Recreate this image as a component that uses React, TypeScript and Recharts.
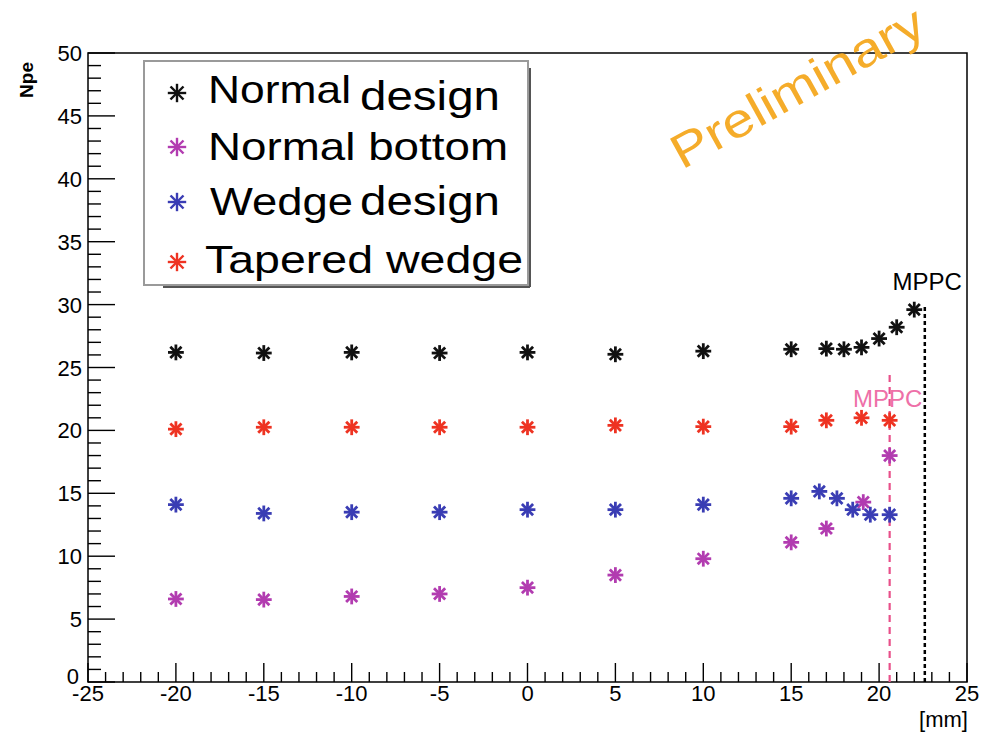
import {
  ScatterChart,
  Scatter,
  XAxis,
  YAxis,
  ReferenceLine,
  ReferenceArea,
  Legend,
} from 'recharts';

// Npe vs position along the tile, four tile designs
const normalDesignX = [-20, -15, -10, -5, 0, 5, 10, 15, 17, 18, 19, 20, 21, 22];
const normalDesignY = [26.2, 26.15, 26.2, 26.15, 26.2, 26.05, 26.3, 26.45, 26.5, 26.45, 26.6, 27.3, 28.2, 29.6];

const normalBottomX = [-20, -15, -10, -5, 0, 5, 10, 15, 17, 19.1, 20.6];
const normalBottomY = [6.6, 6.55, 6.8, 7.0, 7.5, 8.5, 9.8, 11.1, 12.2, 14.3, 18.0];

const wedgeDesignX = [-20, -15, -10, -5, 0, 5, 10, 15, 16.6, 17.6, 18.5, 19.5, 20.6];
const wedgeDesignY = [14.1, 13.4, 13.5, 13.5, 13.7, 13.7, 14.1, 14.6, 15.15, 14.6, 13.7, 13.3, 13.3];

const taperedWedgeX = [-20, -15, -10, -5, 0, 5, 10, 15, 17, 19, 20.6];
const taperedWedgeY = [20.1, 20.25, 20.25, 20.25, 20.25, 20.4, 20.3, 20.3, 20.8, 21.0, 20.8];

// MPPC positions (x) and marker heights (y)
const mppcNormal = { x: 22.6, top: 30 };
const mppcWedge = { x: 20.6, top: 24.5 };

// minor ticks every 1 unit (ROOT style), labels on every 5th
const xTicks = Array.from({ length: 51 }, (_, i) => i - 25);
const yTicks = Array.from({ length: 51 }, (_, i) => i);

const FONT = "'Liberation Sans', Arial, Helvetica, sans-serif";
const NARROW = "'Liberation Sans Narrow', 'Arial Narrow', 'Liberation Sans', sans-serif";

const COLORS = {
  normal: '#111111',
  bottom: '#b23cb0',
  wedge: '#3a3db4',
  tapered: '#ee3322',
};

const toPoints = (xs: number[], ys: number[]) => xs.map((x, i) => ({ x, y: ys[i] }));

function Asterisk({ cx, cy, r, color, w }: { cx: number; cy: number; r: number; color: string; w: number }) {
  const d = r * 0.7071;
  return (
    <g stroke={color} strokeWidth={w} strokeLinecap="square">
      <line x1={cx - r} y1={cy} x2={cx + r} y2={cy} />
      <line x1={cx} y1={cy - r} x2={cx} y2={cy + r} />
      <line x1={cx - d} y1={cy - d} x2={cx + d} y2={cy + d} />
      <line x1={cx - d} y1={cy + d} x2={cx + d} y2={cy - d} />
    </g>
  );
}

const markerShape = (color: string) => (props: any) => (
  <Asterisk cx={props.cx} cy={props.cy} r={6.5} color={color} w={2.8} />
);

function XTick(props: any) {
  const { x, y, payload } = props;
  const v = payload.value;
  const major = v % 5 === 0;
  return (
    <g>
      <line x1={x} x2={x} y1={y} y2={y - (major ? 19 : 10)} stroke="#000" strokeWidth={1.4} />
      {major && (
        <text x={x} y={y + 19} textAnchor="middle" fontSize={22} fontFamily={NARROW} fill="#000">
          {v}
        </text>
      )}
    </g>
  );
}

function YTick(props: any) {
  const { x, y, payload } = props;
  const v = payload.value;
  const major = v % 5 === 0;
  return (
    <g>
      <line x1={x} x2={x + (major ? 27 : 13)} y1={y} y2={y} stroke="#000" strokeWidth={1.4} />
      {major && (
        <text
          x={v === 0 ? x - 9 : x - 6}
          y={y + (v === 0 ? 2 : 8)}
          textAnchor="end"
          fontSize={22}
          fontFamily={FONT}
          fill="#000"
        >
          {v}
        </text>
      )}
    </g>
  );
}

function LegendBox() {
  return (
    <svg width={392} height={232} style={{ display: 'block', overflow: 'visible' }}>
      <rect x={1} y={1} width={384} height={224} fill="#fff" stroke="#9a9a9a" strokeWidth={2} />
      <line x1={20} y1={227} x2={387} y2={227} stroke="#555" strokeWidth={2} />
      <line x1={387} y1={8} x2={387} y2={227} stroke="#555" strokeWidth={2} />
      <Asterisk cx={34} cy={33} r={8} color={COLORS.normal} w={2.4} />
      <Asterisk cx={34} cy={87} r={8} color={COLORS.bottom} w={2.4} />
      <Asterisk cx={34} cy={142} r={8} color={COLORS.wedge} w={2.4} />
      <Asterisk cx={34} cy={202} r={8} color={COLORS.tapered} w={2.4} />
      <g fontFamily={FONT} fontSize={39} fill="#000">
        <text x={65} y={43} textLength={143} lengthAdjust="spacingAndGlyphs">Normal</text>
        <text x={217} y={50} fontSize={41} textLength={140} lengthAdjust="spacingAndGlyphs">design</text>
        <text x={65} y={100} textLength={300} lengthAdjust="spacingAndGlyphs">Normal bottom</text>
        <text x={67} y={155} textLength={143} lengthAdjust="spacingAndGlyphs">Wedge</text>
        <text x={217} y={155} fontSize={41} textLength={140} lengthAdjust="spacingAndGlyphs">design</text>
        <text x={62} y={213} textLength={318} lengthAdjust="spacingAndGlyphs">Tapered wedge</text>
      </g>
    </svg>
  );
}

export default function App() {
  return (
    <div style={{ position: 'absolute', left: 0, top: 0, width: 982, height: 737, background: '#fff' }}>
      <ScatterChart width={982} height={737} margin={{ top: 53, right: 15, bottom: 5, left: 28 }}>
        <XAxis
          type="number"
          dataKey="x"
          domain={[-25, 25]}
          ticks={xTicks}
          interval={0}
          tick={<XTick />}
          tickSize={0}
          tickMargin={0}
          axisLine={false}
          tickLine={false}
          height={50}
          allowDataOverflow
          label={(p: any) => {
            const vb = p.viewBox || { x: 88, y: 682, width: 879 };
            return (
              <text x={vb.x + vb.width + 1} y={vb.y + 45} textAnchor="end" fontSize={22} fontFamily={NARROW} fill="#000">
                [mm]
              </text>
            );
          }}
        />
        <YAxis
          type="number"
          dataKey="y"
          domain={[0, 50]}
          ticks={yTicks}
          interval={0}
          tick={<YTick />}
          tickSize={0}
          tickMargin={0}
          axisLine={false}
          tickLine={false}
          width={60}
          allowDataOverflow
          label={(p: any) => {
            const vb = p.viewBox || { x: 28, y: 53 };
            const lx = vb.x + 5;
            const ly = vb.y + 9;
            return (
              <text
                x={lx}
                y={ly}
                transform={`rotate(-90 ${lx} ${ly})`}
                textAnchor="end"
                fontSize={19}
                fontWeight="bold"
                fontFamily={FONT}
                fill="#000"
              >
                Npe
              </text>
            );
          }}
        />
        <ReferenceArea x1={-25} x2={25} y1={0} y2={50} fill="none" stroke="#000" strokeWidth={1.5} />
        <ReferenceLine
          segment={[{ x: mppcNormal.x, y: 0 }, { x: mppcNormal.x, y: mppcNormal.top }]}
          stroke="#000"
          strokeWidth={2.5}
          strokeDasharray="4 3"
          label={(p: any) => {
            const vb = p.viewBox || { x: 925, y: 303 };
            return (
              <text x={vb.x + 37} y={vb.y - 15} textAnchor="end" fontSize={24} fontFamily={FONT} fill="#000">
                MPPC
              </text>
            );
          }}
        />
        <ReferenceLine
          segment={[{ x: mppcWedge.x, y: 0 }, { x: mppcWedge.x, y: mppcWedge.top }]}
          stroke="#e8508a"
          strokeWidth={2.2}
          strokeDasharray="7 5"
          label={(p: any) => {
            const vb = p.viewBox || { x: 889, y: 372 };
            return (
              <text x={vb.x - 2} y={vb.y + 33} textAnchor="middle" fontSize={24} fontFamily={FONT} fill="#ee70a8">
                MPPC
              </text>
            );
          }}
        />
        <Scatter
          name="Normal design"
          data={toPoints(normalDesignX, normalDesignY)}
          fill={COLORS.normal}
          shape={markerShape(COLORS.normal)}
          isAnimationActive={false}
        />
        <Scatter
          name="Normal bottom"
          data={toPoints(normalBottomX, normalBottomY)}
          fill={COLORS.bottom}
          shape={markerShape(COLORS.bottom)}
          isAnimationActive={false}
        />
        <Scatter
          name="Wedge design"
          data={toPoints(wedgeDesignX, wedgeDesignY)}
          fill={COLORS.wedge}
          shape={markerShape(COLORS.wedge)}
          isAnimationActive={false}
        />
        <Scatter
          name="Tapered wedge"
          data={toPoints(taperedWedgeX, taperedWedgeY)}
          fill={COLORS.tapered}
          shape={markerShape(COLORS.tapered)}
          isAnimationActive={false}
        />
        <Legend
          layout="vertical"
          align="center"
          verticalAlign="middle"
          content={() => <LegendBox />}
          wrapperStyle={{ position: 'absolute', left: 143, top: 60, width: 392, height: 232 }}
        />
      </ScatterChart>
      <svg
        width={982}
        height={737}
        style={{ position: 'absolute', left: 0, top: 0, pointerEvents: 'none' }}
      >
        <text
          x={682}
          y={170}
          transform="rotate(-29 682 170)"
          fontSize={48}
          fontFamily={FONT}
          fill="#f5ac2a"
          textLength={282}
          lengthAdjust="spacingAndGlyphs"
        >
          Preliminary
        </text>
      </svg>
    </div>
  );
}
